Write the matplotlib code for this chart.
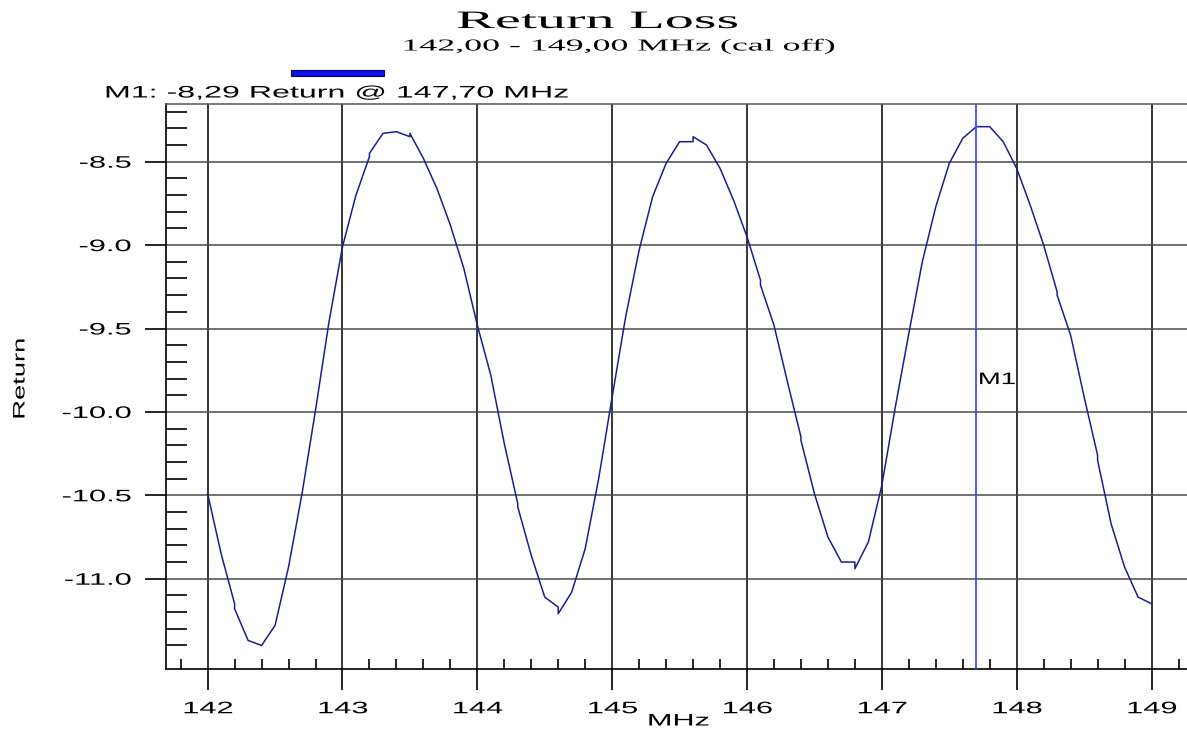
import matplotlib
matplotlib.use('Agg')
import matplotlib.pyplot as plt
from matplotlib.patches import Rectangle
from matplotlib.patheffects import AbstractPathEffect
from matplotlib.transforms import Affine2D

plt.rcParams['axes.unicode_minus'] = False
plt.rcParams['font.family'] = ['Liberation Sans', 'DejaVu Sans']

# sweep 142..149 MHz, return in dB (repeated freq = small steps in the trace)
freq = [142.0, 142.1, 142.2, 142.2, 142.3, 142.4, 142.5, 142.6, 142.7, 142.8,
        142.9, 143.0, 143.1, 143.2, 143.2, 143.3, 143.4, 143.5, 143.5, 143.6,
        143.7, 143.8, 143.9, 144.0, 144.1, 144.2, 144.3, 144.3, 144.4, 144.5,
        144.6, 144.6, 144.7, 144.8, 144.9, 145.0, 145.1, 145.2, 145.3, 145.4,
        145.5, 145.6, 145.6, 145.7, 145.8, 145.9, 146.0, 146.1, 146.1, 146.2,
        146.3, 146.4, 146.4, 146.5, 146.6, 146.7, 146.8, 146.8, 146.9, 147.0,
        147.1, 147.2, 147.3, 147.4, 147.5, 147.6, 147.7, 147.8, 147.9, 148.0,
        148.1, 148.2, 148.3, 148.3, 148.4, 148.5, 148.6, 148.6, 148.7, 148.8,
        148.9, 149.0]
ret = [-10.49, -10.85, -11.15, -11.18, -11.37, -11.40, -11.28, -10.93, -10.49, -9.99,
       -9.46, -9.01, -8.70, -8.47, -8.45, -8.33, -8.32, -8.35, -8.33, -8.48,
       -8.66, -8.88, -9.14, -9.48, -9.78, -10.19, -10.55, -10.57, -10.86, -11.11,
       -11.17, -11.21, -11.08, -10.82, -10.40, -9.91, -9.43, -9.03, -8.71, -8.51,
       -8.38, -8.38, -8.35, -8.40, -8.54, -8.73, -8.95, -9.21, -9.24, -9.48,
       -9.82, -10.15, -10.17, -10.49, -10.75, -10.90, -10.90, -10.94, -10.78, -10.44,
       -9.97, -9.53, -9.10, -8.77, -8.51, -8.36, -8.29, -8.29, -8.38, -8.54,
       -8.76, -9.00, -9.28, -9.30, -9.54, -9.91, -10.26, -10.29, -10.67, -10.93,
       -11.11, -11.15]

marker_freq = 147.70
marker_val = -8.29

x_ticks = [142, 143, 144, 145, 146, 147, 148, 149]
y_ticks = [-8.5, -9.0, -9.5, -10.0, -10.5, -11.0]
x_minor = [141.8 + 0.2 * i for i in range(38)]
y_minor = [-8.2 - 0.1 * i for i in range(33)]


class Widen(AbstractPathEffect):
    """stretch text glyphs along the writing direction"""

    def __init__(self, sx, anchor=0.5):
        super().__init__()
        self.sx = sx
        self.anchor = anchor

    def draw_path(self, renderer, gc, tpath, affine, rgbFace=None):
        m = affine.get_matrix().copy()
        w = tpath.get_extents().x1
        shift = (self.sx - 1) * self.anchor * w
        m[0, 2] -= shift * m[0, 0]
        m[1, 2] -= shift * m[1, 0]
        m[0, 0] *= self.sx
        m[1, 0] *= self.sx
        renderer.draw_path(gc, tpath, Affine2D(m), rgbFace)


W, H = 1187, 731
fig = plt.figure(figsize=(W / 100, H / 100), dpi=100)
ax = fig.add_axes([165.7 / W, 1 - 669.3 / H, 1 - 165.7 / W, (669.3 - 104) / H])

ax.plot(freq, ret, color='#1c1c94', lw=1.1, zorder=3)
ax.axvline(marker_freq, color='#4646ff', lw=1.3, zorder=4)
ax.text(marker_freq + 0.012, -9.833, 'M1', fontsize=12, ha='left', va='baseline',
        path_effects=[Widen(1.65, 0)], zorder=5)

ax.set_xlim(141.689, 149.263)
ax.set_ylim(-11.543, -8.154)

ax.set_xticks(x_ticks)
ax.set_xticklabels([str(v) for v in x_ticks])
ax.set_yticks(y_ticks)
ax.set_yticklabels([f'{v:.1f}' for v in y_ticks])
ax.set_xticks(x_minor, minor=True)
ax.set_yticks(y_minor, minor=True)

ax.tick_params(axis='both', which='major', direction='out', length=15, width=1.2,
               labelsize=12, color='black')
ax.tick_params(axis='x', which='major', pad=8)
ax.tick_params(axis='y', which='major', pad=10)
ax.tick_params(axis='x', which='minor', direction='in', length=7, width=1.2)
ax.tick_params(axis='y', which='minor', direction='in', length=15, width=1.2)

for lbl in ax.get_xticklabels():
    lbl.set_path_effects([Widen(1.85, 0.5)])
for lbl in ax.get_yticklabels():
    lbl.set_path_effects([Widen(1.85, 1.0)])

ax.set_axisbelow(True)
ax.grid(axis='x', which='major', color='black', lw=1.1)
ax.grid(axis='y', which='major', color='#4a4a4a', lw=1.1)

for s in ('left', 'bottom'):
    ax.spines[s].set_color('black')
    ax.spines[s].set_linewidth(1.2)
ax.spines['top'].set_color('#555555')
ax.spines['top'].set_linewidth(1.1)
ax.spines['right'].set_visible(False)

ax.set_xlabel('MHz', fontsize=12, va='center', path_effects=[Widen(1.84, 0.5)])
ax.xaxis.set_label_coords((678 - 165.7) / 1021.3, (669.3 - 721) / 565.3)
ax.set_ylabel('Return', fontsize=12, va='center', path_effects=[Widen(1.64, 0.5)])
ax.yaxis.set_label_coords((20 - 165.7) / 1021.3, (669.3 - 379) / 565.3)

# header
fig.text(597 / W, 1 - 28 / H, 'Return Loss', family='Liberation Serif', fontsize=18,
         ha='center', va='baseline', path_effects=[Widen(2.33, 0.5)])
fig.text(618 / W, 1 - 50.5 / H, '142,00 - 149,00 MHz (cal off)', family='Liberation Serif',
         fontsize=12, ha='center', va='baseline', path_effects=[Widen(2.15, 0.5)])

fig.patches.append(Rectangle((291 / W, 1 - 76 / H), 93 / W, 6 / H, transform=fig.transFigure,
                             facecolor='#0d0dee', edgecolor='#00005a', lw=0.8))

m1_text = f'M1: {marker_val:.2f} Return @ {marker_freq:.2f} MHz'.replace('.', ',')
fig.text(104 / W, 1 - 97.5 / H, m1_text, fontsize=12, ha='left', va='baseline',
         path_effects=[Widen(1.93, 0)])

fig.savefig('out.png', dpi=100)
